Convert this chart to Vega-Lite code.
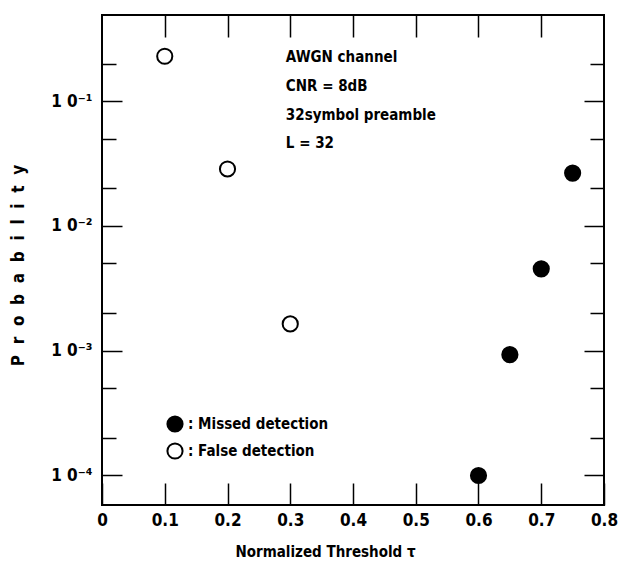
{
  "$schema": "https://vega.github.io/schema/vega-lite/v6.json",
  "width": 502,
  "height": 490,
  "autosize": "none",
  "padding": {"left": 102, "top": 15, "right": 20, "bottom": 67},
  "background": "white",
  "config": {
    "view": {"stroke": "black", "strokeWidth": 2},
    "font": "DejaVu Sans Condensed",
    "axis": {
      "domain": false,
      "grid": false,
      "tickColor": "black",
      "tickWidth": 1.5,
      "labelColor": "black",
      "titleColor": "black",
      "labelFont": "DejaVu Sans Condensed",
      "titleFont": "DejaVu Sans Condensed",
      "labelFontWeight": "bold",
      "titleFontWeight": "bold",
      "labelFontSize": 17,
      "titleFontSize": 15
    }
  },
  "datasets": {
    "points": [
      {"tau": 0.1, "prob": 0.229, "type": "False detection"},
      {"tau": 0.2, "prob": 0.0286, "type": "False detection"},
      {"tau": 0.3, "prob": 0.00164, "type": "False detection"},
      {"tau": 0.6, "prob": 0.0001, "type": "Missed detection"},
      {"tau": 0.65, "prob": 0.00093, "type": "Missed detection"},
      {"tau": 0.7, "prob": 0.00453, "type": "Missed detection"},
      {"tau": 0.75, "prob": 0.0265, "type": "Missed detection"}
    ],
    "notes": [
      {"tau": 0.293, "prob": 0.225, "label": "AWGN channel"},
      {"tau": 0.293, "prob": 0.132, "label": "CNR = 8dB"},
      {"tau": 0.293, "prob": 0.0773, "label": "32symbol preamble"},
      {"tau": 0.293, "prob": 0.0461, "label": "L = 32"}
    ]
  },
  "layer": [
    {
      "data": {"name": "points"},
      "mark": {"type": "point", "shape": "circle", "size": 230, "stroke": "black", "strokeWidth": 2, "opacity": 1},
      "encoding": {
        "x": {
          "field": "tau", "type": "quantitative",
          "scale": {"domain": [0, 0.8], "nice": false, "zero": false},
          "axis": {
            "orient": "bottom",
            "values": [0, 0.1, 0.2, 0.3, 0.4, 0.5, 0.6, 0.7, 0.8],
            "tickSize": -22,
            "labelPadding": 29,
            "labelExpr": "datum.value == 0 ? '0' : format(datum.value, '.1f')",
            "labelFlush": false,
            "labelOverlap": false,
            "title": "Normalized Threshold τ",
            "titleX": 223,
            "titleY": 46,
            "titleBaseline": "middle"
          }
        },
        "y": {
          "field": "prob", "type": "quantitative",
          "scale": {"type": "log", "domain": [0.000058, 0.49], "nice": false},
          "axis": {
            "orient": "left",
            "values": [0.0001, 0.0002, 0.0005, 0.001, 0.002, 0.005, 0.01, 0.02, 0.05, 0.1, 0.2],
            "tickSize": {"condition": {"test": "abs(log(datum.value)/LN10 - round(log(datum.value)/LN10)) < 0.01", "value": -20}, "value": -14},
            "labelPadding": 30,
            "labelExpr": "datum.value == 0.1 ? '1 0⁻¹' : datum.value == 0.01 ? '1 0⁻²' : datum.value == 0.001 ? '1 0⁻³' : datum.value == 0.0001 ? '1 0⁻⁴' : ''",
            "labelOverlap": false,
            "labelFlush": false,
            "title": "P\u2002\u2009r\u2002\u2009o\u2002\u2009b\u2002\u2009a\u2002\u2009b\u2002\u2009i\u2002\u2009l\u2002\u2009i\u2002\u2009t\u2002\u2009y",
            "titleFontSize": 17,
            "titleX": -84,
            "titleY": 250,
            "titleAngle": -90,
            "titleAlign": "center",
            "titleBaseline": "middle"
          }
        },
        "fill": {
          "field": "type", "type": "nominal",
          "scale": {"domain": ["Missed detection", "False detection"], "range": ["black", "white"]},
          "legend": {
            "orient": "none",
            "legendX": 64,
            "legendY": 400,
            "title": null,
            "symbolType": "circle",
            "symbolSize": 230,
            "symbolStrokeColor": "black",
            "symbolStrokeWidth": 2,
            "labelExpr": "': ' + datum.label",
            "labelFont": "DejaVu Sans Condensed",
            "labelFontWeight": "bold",
            "labelFontSize": 15,
            "labelColor": "black",
            "rowPadding": 3,
            "labelOffset": 4
          }
        }
      }
    },
    {
      "data": {"name": "notes"},
      "mark": {"type": "text", "align": "left", "baseline": "middle", "fontSize": 15, "fontWeight": "bold", "font": "DejaVu Sans Condensed", "color": "black"},
      "encoding": {
        "x": {"field": "tau", "type": "quantitative", "axis": null},
        "y": {"field": "prob", "type": "quantitative", "scale": {"type": "log"}, "axis": null},
        "text": {"field": "label", "type": "nominal"}
      }
    },
    {
      "data": {"name": "notes"},
      "mark": {"type": "point", "opacity": 0},
      "encoding": {
        "x": {
          "field": "tau", "type": "quantitative",
          "axis": {"orient": "top", "values": [0.1, 0.2, 0.3, 0.4, 0.5, 0.6, 0.7], "tickSize": -22, "labels": false, "title": null}
        },
        "y": {
          "field": "prob", "type": "quantitative", "scale": {"type": "log"},
          "axis": {
            "orient": "right",
            "values": [0.0001, 0.0002, 0.0005, 0.001, 0.002, 0.005, 0.01, 0.02, 0.05, 0.1, 0.2],
            "tickSize": {"condition": {"test": "abs(log(datum.value)/LN10 - round(log(datum.value)/LN10)) < 0.01", "value": -20}, "value": -14},
            "labels": false,
            "title": null
          }
        }
      }
    }
  ],
  "resolve": {"axis": {"x": "independent", "y": "independent"}}
}
